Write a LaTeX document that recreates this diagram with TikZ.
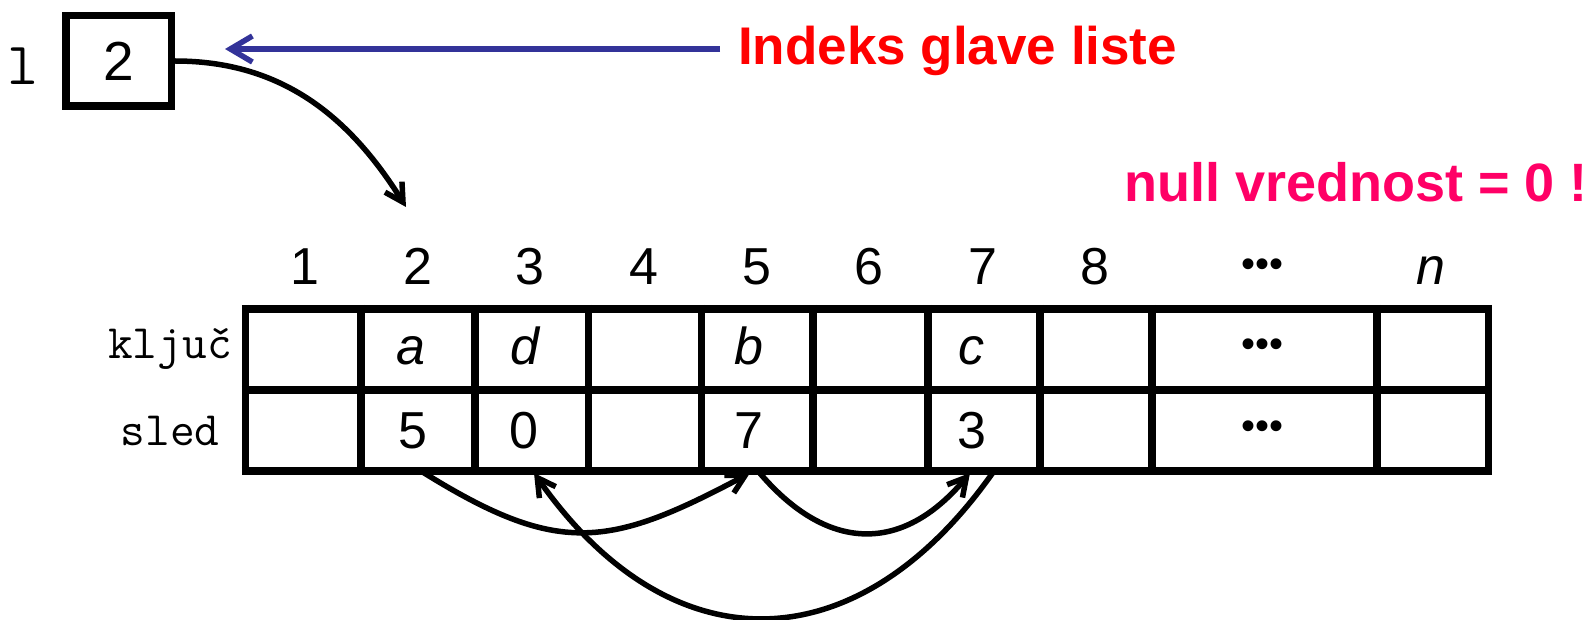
\documentclass[tikz,border=0pt]{standalone}
\usepackage{fontspec}
\setmainfont{Liberation Sans}
\usetikzlibrary{arrows.meta}
\definecolor{titlered}{RGB}{255,0,0}
\definecolor{nullpink}{RGB}{255,0,102}
\definecolor{arrowblue}{RGB}{51,51,153}
\newcommand{\fsz}[1]{\fontsize{#1}{#1}\selectfont}
\begin{document}
\begin{tikzpicture}[x=1pt,y=1pt,
  rowlbl/.style={font=\ttfamily\fsz{48}, inner sep=0, outer sep=0, anchor=base},
  hdr/.style={font=\fsz{52}, inner sep=0, outer sep=0, anchor=base},
  keycell/.style={font=\fsz{52}, inner sep=0, outer sep=0, minimum height=81, text height=37, text depth=8},
  nextcell/.style={font=\fsz{52}, inner sep=0, outer sep=0, minimum height=81, text height=37, text depth=2},
  dotcell/.style={font=\fsz{40}, inner sep=0, outer sep=0},
  hline/.style={line width=8pt},
  vline/.style={line width=7.5pt},
  blackarrow/.style={line width=5.5pt, -{Straight Barb[length=18pt,width=20pt]}},
  bluearrow/.style={line width=5.5pt, arrowblue, -{Straight Barb[length=22pt,width=26pt]}}
]
\useasboundingbox (0,0) rectangle (1585,-620);

% head index
\node[font=\ttfamily\fsz{60}, inner sep=0, anchor=base] (lname) at (23,-85) {l};
\node[draw, line width=7.5pt, minimum width=105.5, minimum height=90.5, inner sep=0, font=\fsz{55}] (hbox) at (118.5,-61) {2};

% titles
\node[font=\bfseries\fsz{53}, text=titlered, inner sep=0, anchor=base west] (title) at (738,-65) {Indeks glave liste};
\node[font=\bfseries\fsz{54}, text=nullpink, inner sep=0, anchor=base west] (nullnote) at (1124,-202) {null vrednost = 0 !};

\coordinate (btip) at (225,-49);
\draw[bluearrow, shorten <=18pt] (title.west |- btip) -- (btip);

\coordinate (hend) at (406,-207);
\draw[blackarrow] (hbox.east) to[out=0,in=122] (hend);

% column headers
\node[hdr] (h1) at (305,-285) {1};
\node[hdr] (h2) at (418,-285) {2};
\node[hdr] (h3) at (530,-285) {3};
\node[hdr] (h4) at (644,-285) {4};
\node[hdr] (h5) at (757,-285) {5};
\node[hdr] (h6) at (869,-285) {6};
\node[hdr] (h7) at (983,-285) {7};
\node[hdr] (h8) at (1095,-285) {8};
\node[dotcell] (hdots) at (1262,-268) {•••};
\node[hdr] (hn) at (1431,-285) {\itshape n};

% row labels
\node[rowlbl] (kljuc) at (170,-358) {ključ};
\node[rowlbl] (sled) at (170,-445) {sled};

% grid
\foreach \y in {-309,-390,-471} \draw[hline] (241.75,\y) -- (1492.25,\y);
\foreach \x in {245.5,361,475,588.5,701.5,813,928,1040,1152,1377,1488.5} \draw[vline] (\x,-305) -- (\x,-475);

% cells
\node[keycell] (k2) at (411,-349.5) {\itshape a};
\node[keycell] (k3) at (525,-349.5) {\itshape d};
\node[keycell] (k5) at (749,-349.5) {\itshape b};
\node[keycell] (k7) at (971,-349.5) {\itshape c};
\node[dotcell] (kdots) at (1262,-348) {•••};
\node[nextcell] (s2) at (413,-430.5) {5};
\node[nextcell] (s3) at (524,-430.5) {0};
\node[nextcell] (s5) at (749,-430.5) {7};
\node[nextcell] (s7) at (972,-430.5) {3};
\node[dotcell] (sdots) at (1262,-430) {•••};

% links
\draw[blackarrow] ([xshift=8pt]s2.south) to[out=-32,in=-152,looseness=1.25] ([xshift=1pt,yshift=-2pt]s5.south);
\draw[blackarrow] ([xshift=9pt]s5.south) to[out=-50,in=-130,looseness=1.28] ([xshift=-2pt,yshift=-2pt]s7.south);
\draw[blackarrow] ([xshift=22pt]s7.south) to[out=-125,in=-55,looseness=1.32] ([xshift=10pt,yshift=-2pt]s3.south);
\end{tikzpicture}
\end{document}
